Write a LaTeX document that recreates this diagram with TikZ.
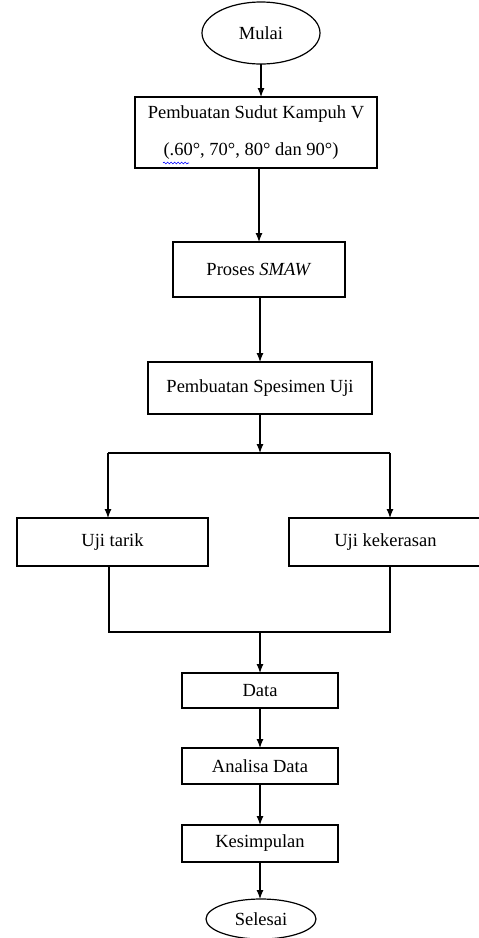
\documentclass[tikz,border=0pt]{standalone}
\usepackage{fontspec}
\setmainfont{Liberation Serif}
\usetikzlibrary{arrows.meta,shapes.geometric,decorations.pathmorphing}
\begin{document}
\begin{tikzpicture}[x=1pt,y=-1pt,
  every node/.style={inner sep=0pt,outer sep=0pt,font=\fontsize{18.5}{37}\selectfont},
  box/.style={draw,line width=1.2pt,rectangle,align=center},
  term/.style={draw,line width=1.2pt,ellipse},
  conn/.style={line width=1.2pt},
  arr/.style={line width=1.2pt,-{Latex[length=9pt,width=7pt]}}]
\useasboundingbox (0,0) rectangle (479,938);
\begin{scope}
\clip (0,0) rectangle (479,938);
\node[term,minimum width=118,minimum height=62] (mulai) at (261,33) {Mulai};
\node[box,minimum width=242,minimum height=71] (sudut) at (256,132.5) {Pembuatan Sudut Kampuh V\\(.60°, 70°, 80° dan 90°)\hspace*{10pt}};
\node[box,minimum width=172,minimum height=55] (smaw) at (259,269.5) {Proses \textit{SMAW}};
\node[box,minimum width=224,minimum height=52] (spes) at (260,388) {Pembuatan Spesimen Uji};
\node[box,minimum width=191,minimum height=48] (tarik) at (112.5,542) {Uji tarik};
\node[box,minimum width=193,minimum height=48] (keras) at (385.5,542) {Uji kekerasan};
\node[box,minimum width=156,minimum height=35] (data) at (260,690.5) {Data};
\node[box,minimum width=156,minimum height=36] (analisa) at (260,766) {Analisa Data};
\node[box,minimum width=156,minimum height=37] (kesimp) at (260,843.5) {Kesimpulan};
\node[term,minimum width=110,minimum height=40] (selesai) at (261,919) {Selesai};
\end{scope}
\draw[blue,line width=0.6pt,decorate,decoration={snake,amplitude=0.9pt,segment length=3.5pt}]
  ([xshift=28pt,yshift=5pt]sudut.south west) -- ([xshift=54pt,yshift=5pt]sudut.south west);
\coordinate (split) at (260,453);
\coordinate (sl) at (108,453);
\coordinate (sr) at (390,453);
\coordinate (jl) at (109,632);
\coordinate (jr) at (390,632);
\coordinate (jm) at (260,632);
\draw[arr] (mulai.south) -- (mulai.south |- sudut.north);
\draw[arr] (sudut.south -| smaw.north) -- (smaw.north);
\draw[arr] (smaw.south) -- (smaw.south -| spes.north) -- (spes.north);
\draw[arr] (spes.south) -- (split);
\draw[conn] (sl) -- (sr);
\draw[arr] (sl) -- (sl |- tarik.north);
\draw[arr] (sr) -- (sr |- keras.north);
\draw[conn] (tarik.south -| jl) -- (jl) -- (jr) -- (keras.south -| jr);
\draw[arr] (jm) -- (data.north);
\draw[arr] (data.south) -- (analisa.north);
\draw[arr] (analisa.south) -- (kesimp.north);
\draw[arr] (kesimp.south) -- (kesimp.south |- selesai.north);
\end{tikzpicture}
\end{document}
